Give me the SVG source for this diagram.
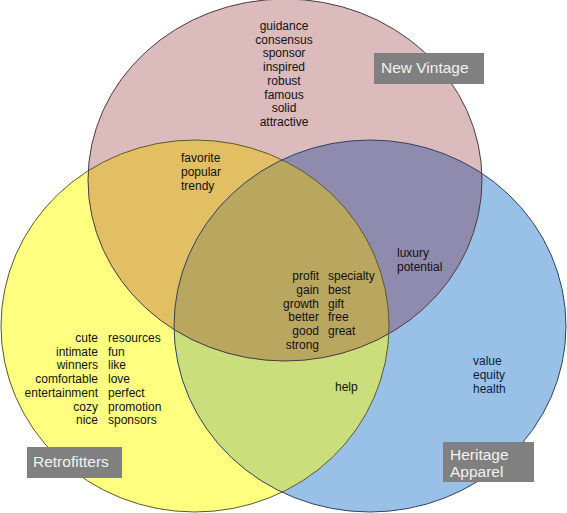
<svg xmlns="http://www.w3.org/2000/svg" width="567" height="513" viewBox="0 0 567 513">
<style>
  text { font-family: "Liberation Sans", Arial, sans-serif; font-size: 12px; fill: #111; }
  .mid { text-anchor: middle; }
  .end { text-anchor: end; }
  .navy { fill: #0d1b3e; }
  .lbl { fill: #808080; }
  .lbltxt { font-size: 15.5px; fill: #f2f2f2; }
  .edge { fill: none; stroke-width: 1; }
</style>
<defs>
  <clipPath id="cY"><ellipse cx="195" cy="326" rx="194" ry="186"/></clipPath>
  <clipPath id="cB"><ellipse cx="370" cy="326" rx="196" ry="186"/></clipPath>
  <clipPath id="cP"><ellipse cx="285" cy="180" rx="197" ry="181"/></clipPath>
</defs>
<rect width="567" height="513" fill="#ffffff"/>

<g id="retrofitters">
  <ellipse cx="195" cy="326" rx="194" ry="186" fill="#FFFF80"/>
</g>
<g id="heritage-apparel">
  <ellipse cx="370" cy="326" rx="196" ry="186" fill="#99C1E8"/>
</g>
<g id="new-vintage">
  <ellipse cx="285" cy="180" rx="197" ry="181" fill="#DCBBBD"/>
</g>

<g id="overlaps">
  <ellipse clip-path="url(#cY)" cx="285" cy="180" rx="197" ry="181" fill="#E2BF63"/>
  <ellipse clip-path="url(#cY)" cx="370" cy="326" rx="196" ry="186" fill="#CBDE7C"/>
  <ellipse clip-path="url(#cP)" cx="370" cy="326" rx="196" ry="186" fill="#8E8BAE"/>
  <g clip-path="url(#cY)">
    <ellipse clip-path="url(#cP)" cx="370" cy="326" rx="196" ry="186" fill="#B9A65F"/>
  </g>
</g>

<g id="outlines">
  <ellipse class="edge" cx="195" cy="326" rx="194" ry="186" stroke="#5a5a2a"/>
  <ellipse class="edge" cx="370" cy="326" rx="196" ry="186" stroke="#2f4560"/>
  <ellipse class="edge" cx="285" cy="180" rx="197" ry="181" stroke="#4a3c40"/>
</g>

<g id="new-vintage-words">
  <text class="mid" x="284" y="30">guidance</text>
  <text class="mid" x="284" y="43.7">consensus</text>
  <text class="mid" x="284" y="57.4">sponsor</text>
  <text class="mid" x="284" y="71.1">inspired</text>
  <text class="mid" x="284" y="84.8">robust</text>
  <text class="mid" x="284" y="98.5">famous</text>
  <text class="mid" x="284" y="112.2">solid</text>
  <text class="mid" x="284" y="125.9">attractive</text>
</g>

<g id="nv-retro-words">
  <text x="181" y="162">favorite</text>
  <text x="181" y="176">popular</text>
  <text x="181" y="190">trendy</text>
</g>

<g id="nv-heritage-words">
  <text x="397" y="257">luxury</text>
  <text x="397" y="271">potential</text>
</g>

<g id="all-three-words">
  <text class="end" x="319" y="280">profit</text>
  <text class="end" x="319" y="293.8">gain</text>
  <text class="end" x="319" y="307.6">growth</text>
  <text class="end" x="319" y="321.4">better</text>
  <text class="end" x="319" y="335.2">good</text>
  <text class="end" x="319" y="349">strong</text>
  <text x="328" y="280">specialty</text>
  <text x="328" y="293.8">best</text>
  <text x="328" y="307.6">gift</text>
  <text x="328" y="321.4">free</text>
  <text x="328" y="335.2">great</text>
</g>

<g id="retro-heritage-words">
  <text x="335" y="391">help</text>
</g>

<g id="retrofitters-words">
  <text class="end" x="98" y="342">cute</text>
  <text class="end" x="98" y="355.7">intimate</text>
  <text class="end" x="98" y="369.4">winners</text>
  <text class="end" x="98" y="383.1">comfortable</text>
  <text class="end" x="98" y="396.8">entertainment</text>
  <text class="end" x="98" y="410.5">cozy</text>
  <text class="end" x="98" y="424.2">nice</text>
  <text x="108" y="342">resources</text>
  <text x="108" y="355.7">fun</text>
  <text x="108" y="369.4">like</text>
  <text x="108" y="383.1">love</text>
  <text x="108" y="396.8">perfect</text>
  <text x="108" y="410.5">promotion</text>
  <text x="108" y="424.2">sponsors</text>
</g>

<g id="heritage-words">
  <text class="navy" x="473" y="365">value</text>
  <text class="navy" x="473" y="379">equity</text>
  <text class="navy" x="473" y="392.5">health</text>
</g>

<g id="label-new-vintage">
  <rect class="lbl" x="374" y="53" width="110" height="31"/>
  <text class="lbltxt" x="381" y="73">New Vintage</text>
</g>
<g id="label-retrofitters">
  <rect class="lbl" x="27" y="447" width="95" height="31"/>
  <text class="lbltxt" x="33" y="467">Retrofitters</text>
</g>
<g id="label-heritage-apparel">
  <rect class="lbl" x="443" y="442" width="91" height="40"/>
  <text class="lbltxt" x="450" y="459.5">Heritage</text>
  <text class="lbltxt" x="450" y="477">Apparel</text>
</g>
</svg>
